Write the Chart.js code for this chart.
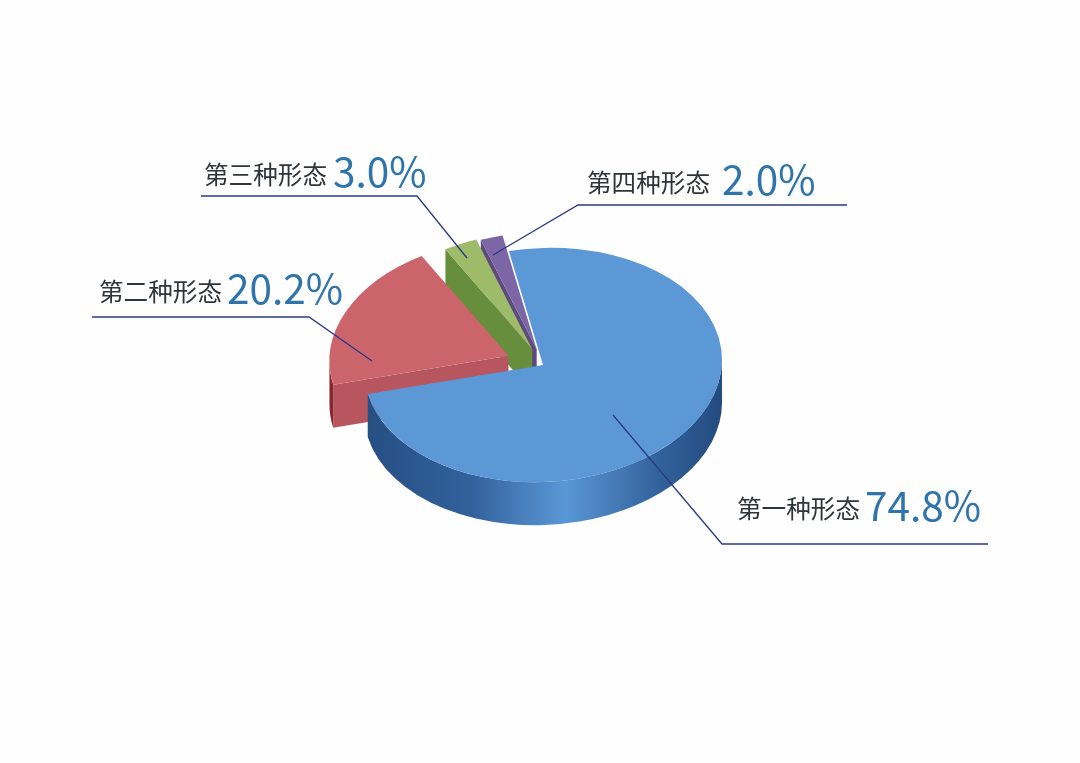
<!DOCTYPE html>
<html>
<head>
<meta charset="utf-8">
<title>形态占比</title>
<script src="https://cdn.jsdelivr.net/npm/chart.js@4"></script>
<style>
    html, body { margin: 0; padding: 0; background: #fefefe; }
    canvas { display: block; }
</style>
</head>
<body>
<canvas id="shapeChart" width="1080" height="763"></canvas>
<script>
const categories = ['第一种形态', '第二种形态', '第三种形态', '第四种形态'];
const percents = [74.8, 20.2, 3.0, 2.0];

const topColors = ['#5b98d5', '#cc656b', '#9dbb68', '#7d66a6'];
const faceColors = [null, '#b85660', '#668e3c', '#5f4a7e'];
const wallStops = [
    [[0, '#264f82'], [0.3, '#32619c'], [0.56, '#5a97d6'], [0.82, '#33639c'], [1, '#234a7f']],
    [[0, '#8a2530'], [1, '#8a2530']],
    [[0, '#668e3c'], [1, '#668e3c']],
    [[0, '#5f4a7e'], [1, '#5f4a7e']]
];
// how far each slice is pulled out of the pie, back to front draw order
const explode = [0, 38, 27, 25];
const drawOrder = [3, 2, 1, 0];

const squash = 0.654;
const shear = -0.03; // slight tilt, stands in for the original's perspective
const depth = 43;
const pieRadius = 179;

// label text spots and leader lines, in page pixels
const labelX = [737, 99, 204, 587];
const valueX = [865, 227, 333, 722];
const labelY = [509, 292, 175, 183];
const leaders = [
    [[613, 415], [722, 544], [988, 544]],
    [[92, 317], [309, 317], [372, 361]],
    [[201, 196], [417, 196], [467, 258]],
    [[847, 205], [578, 205], [493, 255]]
];

function pieTransform(ctx, arc, i) {
    const mid = (arc.startAngle + arc.endAngle) / 2;
    ctx.translate(arc.x, arc.y);
    ctx.transform(1, shear, 0, squash, 0, 0);
    ctx.translate(Math.cos(mid) * explode[i] - arc.x, Math.sin(mid) * explode[i] - arc.y);
}

function drawSides(ctx, arc, i) {
    const mid = (arc.startAngle + arc.endAngle) / 2;
    const cx = arc.x + Math.cos(mid) * explode[i];
    const cy = arc.y + (Math.sin(mid) * squash + Math.cos(mid) * shear) * explode[i];
    const r = arc.outerRadius;

    // cut face on the slice's first edge
    if (faceColors[i]) {
        const dx = Math.cos(arc.startAngle) * r;
        const ex = cx + dx;
        const ey = cy + Math.sin(arc.startAngle) * r * squash + dx * shear;
        ctx.beginPath();
        ctx.moveTo(cx, cy);
        ctx.lineTo(ex, ey);
        ctx.lineTo(ex, ey + depth);
        ctx.lineTo(cx, cy + depth);
        ctx.closePath();
        ctx.fillStyle = faceColors[i];
        ctx.fill();
    }

    // outer wall, only the part facing the viewer
    const a1 = Math.max(arc.startAngle, 0);
    const a2 = Math.min(arc.endAngle, Math.PI);
    if (a2 > a1) {
        const grad = ctx.createLinearGradient(cx - r, 0, cx + r, 0);
        wallStops[i].forEach(s => grad.addColorStop(s[0], s[1]));
        ctx.beginPath();
        ctx.save();
        pieTransform(ctx, arc, i);
        ctx.arc(arc.x, arc.y, r, a1, a2);
        ctx.restore();
        ctx.save();
        ctx.translate(0, depth);
        pieTransform(ctx, arc, i);
        ctx.arc(arc.x, arc.y, r, a2, a1, true);
        ctx.restore();
        ctx.closePath();
        ctx.fillStyle = grad;
        ctx.fill();
    }
}

const pie3d = {
    id: 'pie3d',
    beforeDatasetDraw(chart, args) {
        const ctx = chart.ctx;
        const arcs = args.meta.data;
        drawOrder.forEach(i => {
            drawSides(ctx, arcs[i], i);
            ctx.save();
            pieTransform(ctx, arcs[i], i);
            arcs[i].draw(ctx);
            ctx.restore();
        });
        return false;
    },
    afterDraw(chart) {
        const ctx = chart.ctx;
        ctx.save();
        ctx.strokeStyle = '#2a3a85';
        ctx.lineWidth = 1.3;
        leaders.forEach(line => {
            ctx.beginPath();
            line.forEach((p, n) => n ? ctx.lineTo(p[0], p[1]) : ctx.moveTo(p[0], p[1]));
            ctx.stroke();
        });
        ctx.textBaseline = 'middle';
        categories.forEach((name, i) => {
            ctx.font = '400 24.6px "Noto Sans CJK SC"';
            ctx.fillStyle = '#2e3437';
            ctx.fillText(name, labelX[i], labelY[i]);
            ctx.font = '400 40.5px "Noto Sans CJK SC"';
            ctx.fillStyle = '#2f75ab';
            ctx.fillText(percents[i].toFixed(1) + '%', valueX[i], labelY[i] - 3);
        });
        ctx.restore();
    }
};

new Chart(document.getElementById('shapeChart'), {
    type: 'pie',
    data: {
        labels: categories,
        datasets: [{
            data: percents,
            backgroundColor: topColors,
            borderWidth: 0
        }]
    },
    options: {
        responsive: false,
        animation: false,
        rotation: -11,
        radius: pieRadius,
        layout: { padding: { left: 6, bottom: 33 } },
        plugins: {
            legend: { display: false },
            tooltip: { enabled: false }
        }
    },
    plugins: [pie3d]
});
</script>
</body>
</html>
